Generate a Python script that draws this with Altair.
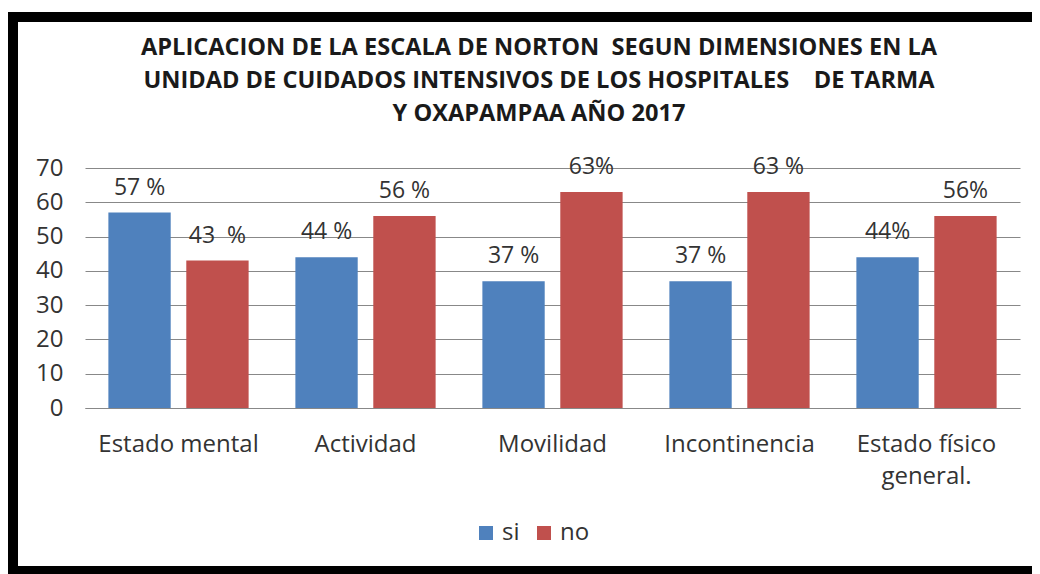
import altair as alt
import pandas as pd

categorias = ["Estado mental", "Actividad", "Movilidad", "Incontinencia", "Estado físico general."]
series = ["si", "no"]
si_vals = [57, 44, 37, 37, 44]
no_vals = [43, 56, 63, 63, 56]
si_labels = ["57 %", "44 %", "37 %", "37 %", "44%"]
no_labels = ["43\u00a0 %", "56 %", "63%", "63 %", "56%"]
colores = ["#4F81BD", "#C0504D"]
y_ticks = [0, 10, 20, 30, 40, 50, 60, 70]
title_lines = [
    "APLICACION DE LA ESCALA DE NORTON \u00a0SEGUN DIMENSIONES EN LA",
    "UNIDAD DE CUIDADOS INTENSIVOS DE LOS HOSPITALES \u00a0\u00a0\u00a0DE TARMA",
    "Y OXAPAMPAA AÑO 2017",
]

rows = []
for c, v, l in zip(categorias, si_vals, si_labels):
    rows.append({"cat": c, "serie": "si", "valor": v, "etiqueta": l})
for c, v, l in zip(categorias, no_vals, no_labels):
    rows.append({"cat": c, "serie": "no", "valor": v, "etiqueta": l})
df = pd.DataFrame(rows)

FONT = "Open Sans"
TXT = "#333333"

x_enc = alt.X(
    "cat:N",
    sort=categorias,
    title=None,
    scale=alt.Scale(paddingInner=0.25, paddingOuter=0.125),
    axis=alt.Axis(
        labelAngle=0,
        labelFontSize=24,
        labelFont=FONT,
        labelColor=TXT,
        labelPadding=24,
        labelLineHeight=32,
        labelLimit=300,
        ticks=False,
        domain=True,
        domainColor="#888888",
        labelExpr="datum.value == 'Estado físico general.' ? ['Estado físico', 'general.'] : datum.label",
    ),
)
xo_enc = alt.XOffset("serie:N", sort=series, scale=alt.Scale(paddingInner=0.2, paddingOuter=0))
y_enc = alt.Y(
    "valor:Q",
    title=None,
    scale=alt.Scale(domain=[0, 70], nice=False),
    axis=alt.Axis(
        values=y_ticks,
        labelFontSize=24,
        labelFont=FONT,
        labelColor=TXT,
        labelPadding=22,
        ticks=False,
        domain=False,
        gridColor="#888888",
        gridWidth=1,
    ),
)

base = alt.Chart(df)

bars = base.mark_bar().encode(
    x=x_enc,
    xOffset=xo_enc,
    y=y_enc,
    color=alt.Color(
        "serie:N",
        sort=series,
        scale=alt.Scale(domain=series, range=colores),
        legend=alt.Legend(
            title=None,
            orient="none",
            direction="horizontal",
            legendX=389,
            legendY=353,
            symbolType="square",
            symbolSize=196,
            symbolStrokeWidth=0,
            labelFontSize=24,
            labelFont=FONT,
            labelColor=TXT,
            labelOffset=4,
            columnPadding=12,
        ),
    ),
)

labels = base.mark_text(
    fontSize=23, font=FONT, color=TXT, baseline="alphabetic", dy=-18
).encode(
    x=x_enc,
    xOffset=xo_enc,
    y=y_enc,
    text="etiqueta:N",
)

title = alt.Chart(pd.DataFrame({"t": [0]})).mark_text(
    fontSize=23.6,
    font=FONT,
    fontWeight="bold",
    color="#1a1a1a",
    baseline="alphabetic",
    align="center",
    lineHeight=33,
).encode(
    x=alt.value(454),
    y=alt.value(-113),
    text=alt.value(title_lines),
)

# black picture border (left, top, bottom edges) drawn as thick rules
frame_df = pd.DataFrame({"t": [0]})
frame_left = alt.Chart(frame_df).mark_rule(color="black", strokeWidth=10, strokeCap="butt").encode(
    x=alt.value(-72), y=alt.value(-156), y2=alt.value(406)
)
frame_top = alt.Chart(frame_df).mark_rule(color="black", strokeWidth=10, strokeCap="butt").encode(
    y=alt.value(-151), x=alt.value(-77), x2=alt.value(947)
)
frame_bottom = alt.Chart(frame_df).mark_rule(color="black", strokeWidth=8, strokeCap="butt").encode(
    y=alt.value(402), x=alt.value(-77), x2=alt.value(947)
)

chart = alt.layer(frame_left, frame_top, frame_bottom, bars, labels, title).properties(
    width=935,
    height=240,
    autosize=alt.AutoSizeParams(type="none"),
    padding={"left": 77, "top": 160, "right": 12, "bottom": 166},
    background="white",
).configure_view(stroke=None)

chart.save("out.html", embed_options={"renderer": "svg", "actions": False})
